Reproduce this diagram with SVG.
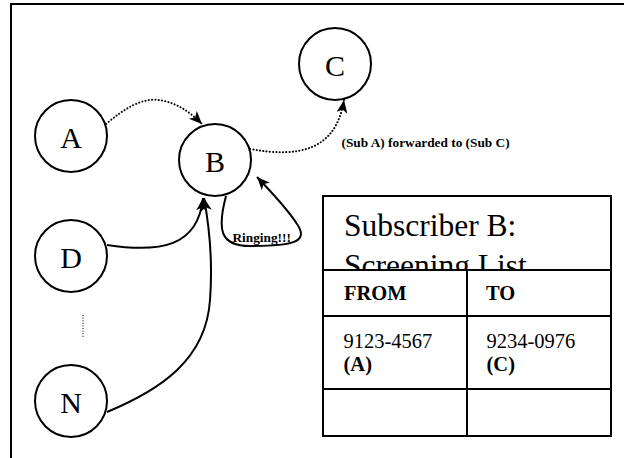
<svg xmlns="http://www.w3.org/2000/svg" width="624" height="458" viewBox="0 0 624 458">
  <style>
    .node circle { fill: #fff; stroke: #000; stroke-width: 2; }
    .node text { font-family: "Liberation Serif", "Times New Roman", serif; font-size: 30px; text-anchor: middle; fill: #000; }
    .link { fill: none; stroke: #000; stroke-width: 2; }
    .dotted { stroke-dasharray: 0.1 3.2; stroke-linecap: round; }
    .label { font-family: "Liberation Serif", "Times New Roman", serif; font-size: 13.3px; font-weight: bold; fill: #000; }
    .grid { fill: none; stroke: #000; stroke-width: 2; }
    .title { font-family: "Liberation Serif", "Times New Roman", serif; font-size: 31.5px; fill: #000; }
    .head { font-family: "Liberation Serif", "Times New Roman", serif; font-size: 20.5px; font-weight: bold; fill: #000; }
    .cell { font-family: "Liberation Serif", "Times New Roman", serif; font-size: 20.5px; fill: #000; }
    .cellb { font-weight: bold; }
  </style>
  <defs>
    <marker id="arrow" markerUnits="userSpaceOnUse" markerWidth="16" markerHeight="14" refX="13" refY="5.5" orient="auto">
      <path d="M0,0 L13,5.5 L0,11 L3.5,5.5 z" fill="#000"/>
    </marker>
    <clipPath id="titleClip">
      <rect x="323" y="196" width="288" height="73"/>
    </clipPath>
  </defs>

  <rect x="0" y="0" width="624" height="458" fill="#fff"/>
  <!-- page frame: only top and left edges fall inside the view -->
  <path d="M11,458 V4 H624" fill="none" stroke="#000" stroke-width="2"/>

  <g id="connectors">
    <path class="link dotted" d="M106,124 C125,108 142,98 158,100 C176,102 190,112 202,124" marker-end="url(#arrow)"/>
    <path class="link dotted" d="M250,149 C300,158 336,150 344,100" marker-end="url(#arrow)"/>
    <path class="link" d="M107,245 C160,253 198,247 203,198" marker-end="url(#arrow)"/>
    <path class="link" d="M107,412 C160,390 206,360 210,300 C213,260 209,225 204,198" marker-end="url(#arrow)"/>
    <path class="link" d="M226,196 C217,230 220,246 250,246 C290,246 310,243 297,224 C286,207 271,192 257,177" marker-end="url(#arrow)"/>
    <text class="label" x="341.5" y="146.5">(Sub A) forwarded to (Sub C)</text>
    <text class="label" x="232.5" y="241.5">Ringing!!!</text>
  </g>

  <g id="node-A" class="node">
    <circle cx="71" cy="136" r="36"/>
    <text x="71" y="148">A</text>
  </g>
  <g id="node-B" class="node">
    <circle cx="215" cy="160" r="36"/>
    <text x="215" y="172">B</text>
  </g>
  <g id="node-C" class="node">
    <circle cx="335" cy="64" r="36"/>
    <text x="335" y="76">C</text>
  </g>
  <g id="node-D" class="node">
    <circle cx="71" cy="256" r="36"/>
    <text x="71" y="268">D</text>
  </g>
  <g id="node-N" class="node">
    <circle cx="71" cy="401" r="36"/>
    <text x="71" y="413">N</text>
  </g>

  <!-- ellipsis between D and N -->
  <line id="more-nodes" x1="83" y1="315" x2="83" y2="337" stroke="#000" stroke-width="1" stroke-dasharray="1 1.6"/>

  <g id="screening-table">
    <rect x="323" y="196" width="288" height="240" fill="#fff"/>
    <g clip-path="url(#titleClip)">
      <text class="title" x="344" y="236">Subscriber B:</text>
      <text class="title" x="344" y="276">Screening List</text>
    </g>
    <rect class="grid" x="323" y="196" width="288" height="240"/>
    <line class="grid" x1="323" y1="270" x2="611" y2="270"/>
    <line class="grid" x1="323" y1="316" x2="611" y2="316"/>
    <line class="grid" x1="323" y1="389" x2="611" y2="389"/>
    <line class="grid" x1="467" y1="270" x2="467" y2="436"/>
    <text class="head" x="344" y="300">FROM</text>
    <text class="head" x="486" y="300">TO</text>
    <text class="cell" x="343.5" y="347.5">9123-4567</text>
    <text class="cell cellb" x="343.5" y="371">(A)</text>
    <text class="cell" x="486.5" y="347.5">9234-0976</text>
    <text class="cell cellb" x="486.5" y="371">(C)</text>
  </g>
</svg>
